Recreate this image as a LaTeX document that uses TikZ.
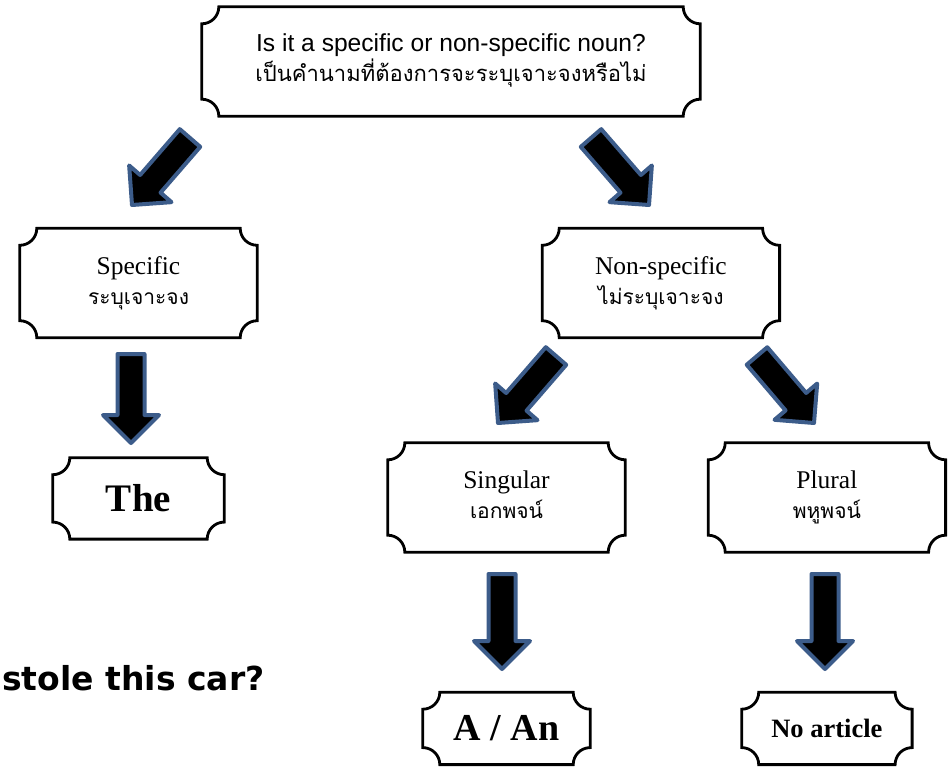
\documentclass[tikz,border=0pt]{standalone}
\usepackage{fontspec}
\setmainfont{Liberation Serif}
\newfontfamily\sansfont{Liberation Sans}
\newfontfamily\thaifont[Script=Thai]{Loma}
\newfontfamily\comicfont{DejaVu Sans}
\usetikzlibrary{positioning,calc}
\definecolor{arrowblue}{RGB}{60,92,138}

\tikzset{
  plaque/.style={minimum width=237pt, minimum height=109pt, inner sep=0pt},
  plaqueline/.style={line width=2.8pt},
  fatarrow/.style={fill=black, draw=arrowblue, line width=4pt, line join=round},
}

\begin{document}
\begin{tikzpicture}[x=1pt,y=1pt]
    \useasboundingbox (0,0) rectangle (949,-767);

    \node[plaque, minimum width=498pt] (question) at (451,-61.5) {
    \fontsize{24.6}{26}\selectfont
    \begin{tabular}{c}
    \sansfont Is it a specific or non-specific noun?\\
    \thaifont\fontsize{22}{26}\selectfont เป็นคำนามที่ต้องการจะระบุเจาะจงหรือไม่
    \end{tabular}
    };

    % ----------

    \node[plaque] (specific) at (138.5,-283) {
    \fontsize{25.5}{30}\selectfont
    \begin{tabular}{c}
    Specific\\
    \thaifont\fontsize{21}{30}\selectfont ระบุเจาะจง
    \end{tabular}
    };
    \node[plaque, right=285pt of specific] (nonspecific) {
    \fontsize{25.5}{30}\selectfont
    \begin{tabular}{c}
    Non-specific\\
    \thaifont\fontsize{21}{30}\selectfont ไม่ระบุเจาะจง
    \end{tabular}
    };

    % ----------

    \node[plaque, minimum width=171pt, minimum height=81pt, below=120pt of specific] (the) {
    \fontsize{39}{40}\selectfont\textbf{The}
    };

    % ----------

    \node[plaque] (singular) at (506.5,-497.5) {
    \fontsize{25.5}{30}\selectfont
    \begin{tabular}{c}
    Singular\\
    \thaifont\fontsize{21}{30}\selectfont เอกพจน์
    \end{tabular}
    };
    \node[plaque, right=83pt of singular] (plural) {
    \fontsize{25.5}{30}\selectfont
    \begin{tabular}{c}
    Plural\\
    \thaifont\fontsize{21}{30}\selectfont พหูพจน์
    \end{tabular}
    };

    % -------

    \node[plaque, minimum width=167pt, minimum height=72pt, below=140pt of singular] (aan) {
    \fontsize{38}{40}\selectfont\textbf{A / An}
    };
    \node[plaque, minimum width=170pt, minimum height=72pt, below=140pt of plural] (noarticle) {
    \fontsize{26.5}{30}\selectfont\textbf{No article}
    };

    \node[anchor=base west, inner sep=0pt] (stole) at (2,-690) {
    \comicfont\bfseries\fontsize{33}{36}\selectfont stole this car?
    };

    % outlines with hollow corners
    \foreach \n in {question,specific,nonspecific,the,singular,plural,aan,noarticle} {
    \draw[plaqueline] ($(\n.north west)+(17pt,0)$) -- ($(\n.north east)+(-17pt,0)$)
      arc[start angle=180, end angle=270, radius=17pt] -- ($(\n.south east)+(0,17pt)$)
      arc[start angle=90, end angle=180, radius=17pt] -- ($(\n.south west)+(17pt,0)$)
      arc[start angle=0, end angle=90, radius=17pt] -- ($(\n.north west)+(0,-17pt)$)
      arc[start angle=270, end angle=360, radius=17pt] -- cycle;
    }

    % ----------

    \coordinate (a1s) at (190,-138);  \coordinate (a1e) at (132,-205);
    \coordinate (a2s) at (591,-138);  \coordinate (a2e) at (649,-205);
    \coordinate (a3s) at (556,-356);  \coordinate (a3e) at (498,-423);
    \coordinate (a4s) at (757,-356);  \coordinate (a4e) at (814,-423);
    \coordinate (a5s) at (131,-354);  \coordinate (a5e) at (131,-443);
    \coordinate (a6s) at (502,-574);  \coordinate (a6e) at (502,-669);
    \coordinate (a7s) at (825,-574);  \coordinate (a7e) at (825,-669);

    \foreach \s/\e in {a1s/a1e,a2s/a2e,a3s/a3e,a4s/a4e,a5s/a5e,a6s/a6e,a7s/a7e} {
    \coordinate (h) at ($(\e)!28pt!(\s)$);
    \draw[fatarrow] ($(\s)!13.5pt!90:(\e)$) -- ($(h)!13.5pt!90:(\e)$)
      -- ($(h)!28pt!90:(\e)$) -- (\e) -- ($(h)!28pt!-90:(\e)$)
      -- ($(h)!13.5pt!-90:(\e)$) -- ($(\s)!13.5pt!-90:(\e)$) -- cycle;
    }

\end{tikzpicture}
\end{document}
